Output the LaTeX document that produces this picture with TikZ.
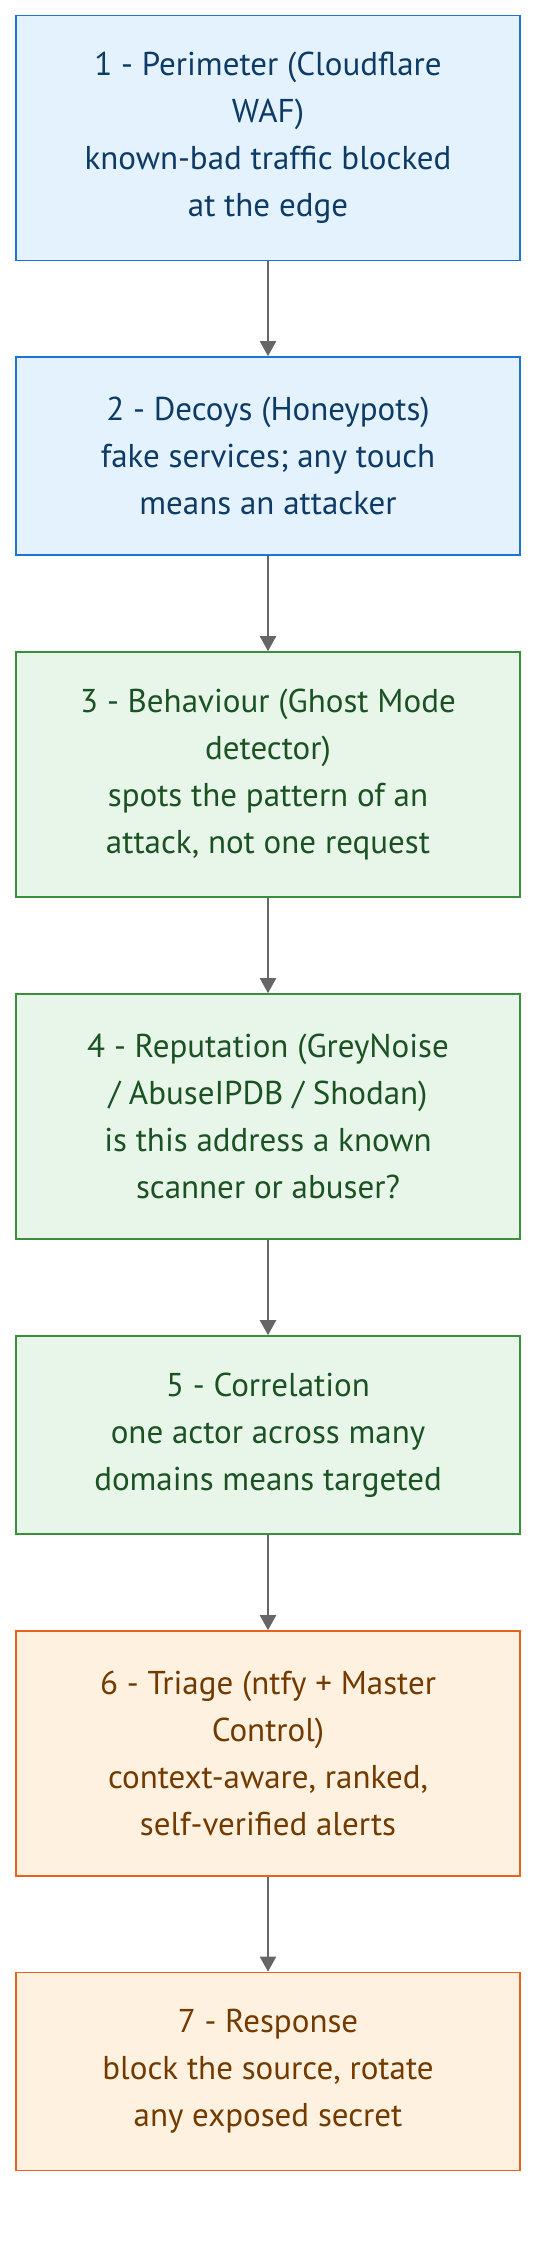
\documentclass[tikz,border=0pt]{standalone}
\usepackage{fontspec}
\setmainfont{PT Sans}
\usetikzlibrary{arrows.meta}
\definecolor{bfill}{HTML}{E3F2FD}
\definecolor{bdraw}{HTML}{1E74D2}
\definecolor{btext}{HTML}{0D3B66}
\definecolor{gfill}{HTML}{E8F5E9}
\definecolor{gdraw}{HTML}{3A8E3E}
\definecolor{gtext}{HTML}{1B5224}
\definecolor{ofill}{HTML}{FFF1DF}
\definecolor{odraw}{HTML}{E8621C}
\definecolor{otext}{HTML}{733A00}
\definecolor{arrgray}{HTML}{666666}
\begin{document}
\begin{tikzpicture}[x=1pt,y=-1pt,
  box/.style={rectangle, inner sep=0pt, minimum width=504pt, line width=1.6pt, align=center,
    font=\fontsize{33}{47}\selectfont},
  fourline/.style={minimum height=245pt},
  threeline/.style={minimum height=198pt},
  bluebox/.style={box, fill=bfill, draw=bdraw, text=btext},
  greenbox/.style={box, fill=gfill, draw=gdraw, text=gtext},
  orangebox/.style={box, fill=ofill, draw=odraw, text=otext},
  arr/.style={draw=arrgray, line width=2pt, -{Triangle[length=15pt,width=16pt]}, fill=arrgray}
]
\useasboundingbox (0,0) rectangle (552,2252);
\fill[white] (0,0) rectangle (552,2252);
\node[bluebox, fourline] (b1) at (268,138) {1 - Perimeter (Cloudflare\\WAF)\\known-bad traffic blocked\\at the edge};
\node[bluebox, threeline] (b2) at (268,456) {2 - Decoys (Honeypots)\\fake services; any touch\\means an attacker};
\node[greenbox, fourline] (b3) at (268,774.5) {3 - Behaviour (Ghost Mode\\detector)\\spots the pattern of an\\attack, not one request};
\node[greenbox, fourline] (b4) at (268,1116.5) {4 - Reputation (GreyNoise\\/ AbuseIPDB / Shodan)\\is this address a known\\scanner or abuser?};
\node[greenbox, threeline] (b5) at (268,1435) {5 - Correlation\\one actor across many\\domains means targeted};
\node[orangebox, fourline] (b6) at (268,1753.5) {6 - Triage (ntfy + Master\\Control)\\context-aware, ranked,\\self-verified alerts};
\node[orangebox, threeline] (b7) at (268,2071.5) {7 - Response\\block the source, rotate\\any exposed secret};
\draw[arr] (b1) -- (b2);
\draw[arr] (b2) -- (b3);
\draw[arr] (b3) -- (b4);
\draw[arr] (b4) -- (b5);
\draw[arr] (b5) -- (b6);
\draw[arr] (b6) -- (b7);
\end{tikzpicture}
\end{document}
